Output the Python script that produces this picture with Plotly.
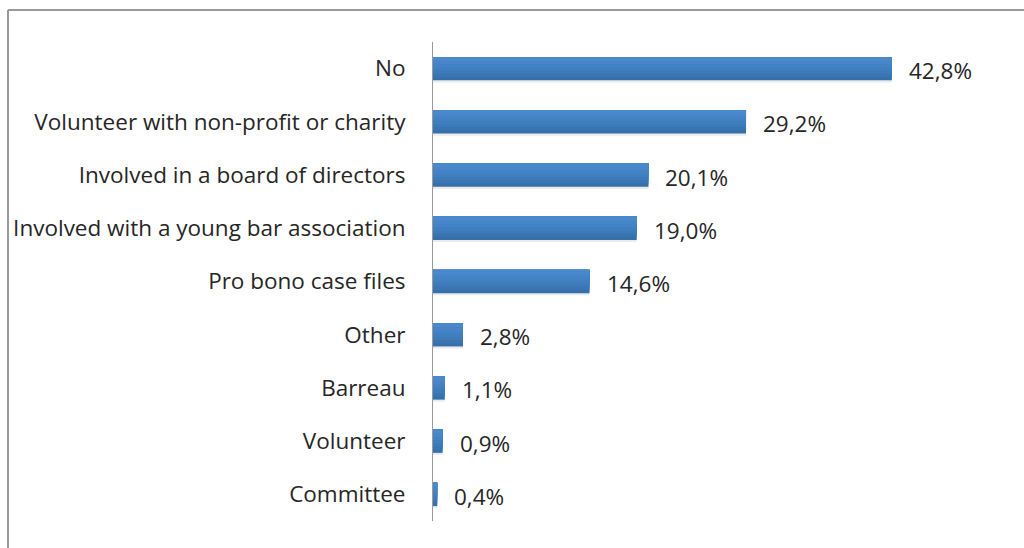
import plotly.graph_objects as go

categories = [
    "No",
    "Volunteer with non-profit or charity",
    "Involved in a board of directors",
    "Involved with a young bar association",
    "Pro bono case files",
    "Other",
    "Barreau",
    "Volunteer",
    "Committee",
]
values = [42.8, 29.2, 20.1, 19.0, 14.6, 2.8, 1.1, 0.9, 0.4]
value_labels = ["42,8%", "29,2%", "20,1%", "19,0%", "14,6%", "2,8%", "1,1%", "0,9%", "0,4%"]

W, H = 1024, 548
ML, MR, MT, MB = 433, 55, 42, 27
FONT = "'Open Sans', 'Noto Sans', sans-serif"
FS = 22.5
TXT = "#262626"

fig = go.Figure()

# soft shadow under each bar
fig.add_trace(go.Bar(
    y=categories, x=values, orientation="h",
    width=0.46, offset=-0.20,
    marker=dict(color="rgba(0,0,0,0.08)", line=dict(width=0)),
    hoverinfo="skip",
))
# vertical gradient built from stacked bands, dark at the bottom
bands = [
    (0.44, "#3670aa"),
    (0.38, "#3a75b1"),
    (0.32, "#3d7ab8"),
    (0.26, "#407ebe"),
    (0.20, "#4382c4"),
    (0.14, "#4686c8"),
    (0.08, "#4989cc"),
]
for w, c in bands:
    fig.add_trace(go.Bar(
        y=categories, x=values, orientation="h",
        width=w, offset=-0.22,
        marker=dict(color=c, line=dict(width=0)),
        hoverinfo="skip",
    ))

for cat, v, lab in zip(categories, values, value_labels):
    fig.add_annotation(
        x=v, y=cat, text=lab, showarrow=False,
        xanchor="left", yanchor="middle", xshift=15, yshift=-2,
        font=dict(family=FONT, size=FS, color=TXT),
    )

pw = W - ML - MR
ph = H - MT - MB
# outer frame (left and top edges visible)
x0 = (8 - ML) / pw
y1 = 1 + (MT - 10) / ph
fig.add_shape(type="line", xref="paper", yref="paper",
              x0=x0, x1=x0, y0=-MB / ph - 0.05, y1=y1,
              line=dict(color="#9a9a9a", width=2))
fig.add_shape(type="line", xref="paper", yref="paper",
              x0=x0, x1=1 + MR / pw + 0.05, y0=y1, y1=y1,
              line=dict(color="#9a9a9a", width=2))

fig.update_layout(
    width=W, height=H,
    margin=dict(l=ML, r=MR, t=MT, b=MB, pad=0),
    barmode="overlay",
    showlegend=False,
    plot_bgcolor="white", paper_bgcolor="white",
    font=dict(family=FONT, size=FS, color=TXT),
    xaxis=dict(range=[0, 50], visible=False, fixedrange=True),
    yaxis=dict(
        autorange="reversed",
        showline=True, linecolor="#9a9a9a", linewidth=1,
        showgrid=False, zeroline=False,
        ticks="", ticklabelstandoff=22,
        tickfont=dict(family=FONT, size=FS, color=TXT),
    ),
)

fig.write_html("out.html")
